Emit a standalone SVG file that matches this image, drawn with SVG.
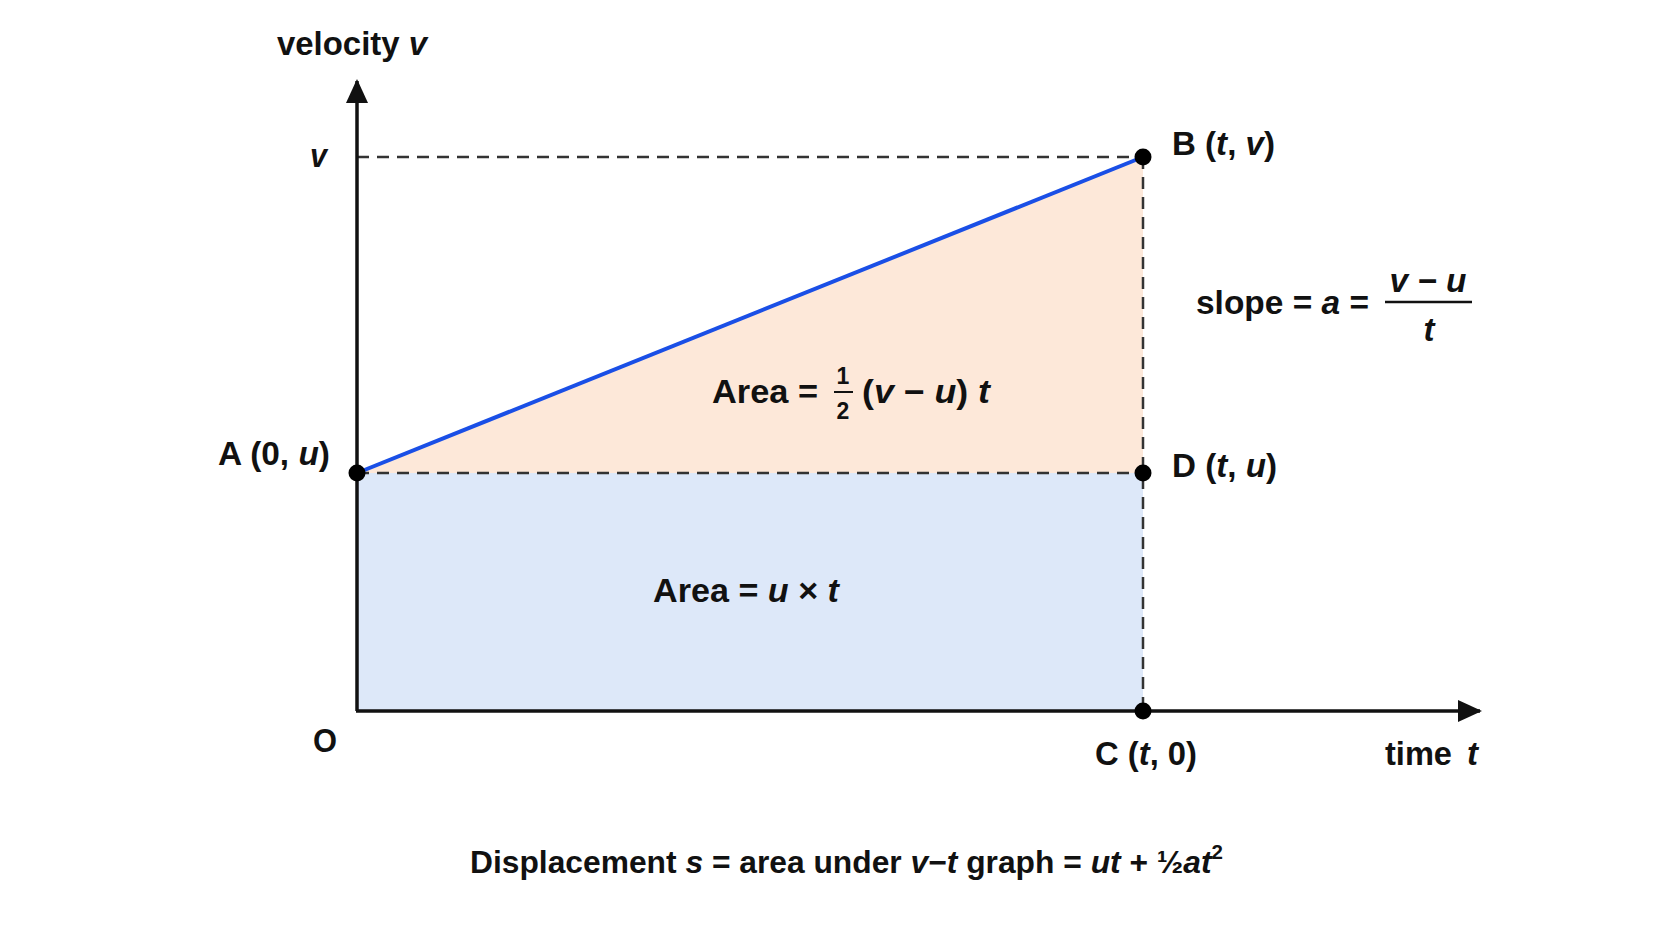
<svg xmlns="http://www.w3.org/2000/svg" width="1672" height="941" viewBox="0 0 1672 941">
<defs>
<style>
text{font-family:"Liberation Sans",Arial,sans-serif;font-weight:bold;fill:#111;font-size:33px}
.i{font-style:italic}
.dash{stroke:#333;stroke-width:2.5;stroke-dasharray:12 8;fill:none}
.axis{stroke:#111;stroke-width:3.5;fill:none}
.dot{fill:#000}
</style>
<marker id="ah" viewBox="0 0 24 22" refX="22" refY="11" markerWidth="24" markerHeight="22" markerUnits="userSpaceOnUse" orient="auto">
<path d="M0,0 L24,11 L0,22 Z" fill="#111"/>
</marker>
</defs>
<rect width="1672" height="941" fill="#ffffff"/>
<g id="regions">
<rect x="357" y="473" width="786" height="238" fill="#dde8f9"/>
<polygon points="357,473 1143,157 1143,473" fill="#fde8d9"/>
</g>
<g id="connectors">
<line class="dash" x1="357" y1="157" x2="1143" y2="157"/>
<line class="dash" x1="357" y1="473" x2="1143" y2="473"/>
<line class="dash" x1="1143" y1="157" x2="1143" y2="711"/>
<line x1="357" y1="473" x2="1143" y2="157" stroke="#1a4fe6" stroke-width="4"/>
<line class="axis" x1="357" y1="711" x2="357" y2="81" marker-end="url(#ah)"/>
<line class="axis" x1="356" y1="711" x2="1480" y2="711" marker-end="url(#ah)"/>
</g>
<g id="axis-labels">
<text x="277" y="55" textLength="150" lengthAdjust="spacingAndGlyphs">velocity <tspan class="i">v</tspan></text>
<text x="310" y="167" class="i" textLength="17" lengthAdjust="spacingAndGlyphs">v</text>
<text x="313" y="752" textLength="24" lengthAdjust="spacingAndGlyphs">O</text>
<text x="1385" y="765" textLength="67" lengthAdjust="spacingAndGlyphs">time</text>
<text x="1467" y="765" class="i" textLength="11" lengthAdjust="spacingAndGlyphs">t</text>
</g>
<g id="node-A">
<circle class="dot" cx="357" cy="473" r="8.5"/>
<text x="218" y="465" textLength="112" lengthAdjust="spacingAndGlyphs">A (0, <tspan class="i">u</tspan>)</text>
</g>
<g id="node-B">
<circle class="dot" cx="1143" cy="157" r="8.5"/>
<text x="1172" y="155" textLength="103" lengthAdjust="spacingAndGlyphs">B (<tspan class="i">t</tspan>, <tspan class="i">v</tspan>)</text>
</g>
<g id="node-D">
<circle class="dot" cx="1143" cy="473" r="8.5"/>
<text x="1172" y="477" textLength="105" lengthAdjust="spacingAndGlyphs">D (<tspan class="i">t</tspan>, <tspan class="i">u</tspan>)</text>
</g>
<g id="node-C">
<circle class="dot" cx="1143" cy="711" r="8.5"/>
<text x="1095" y="765" textLength="102" lengthAdjust="spacingAndGlyphs">C (<tspan class="i">t</tspan>, 0)</text>
</g>
<g id="slope">
<text x="1196" y="314" textLength="173" lengthAdjust="spacingAndGlyphs">slope = <tspan class="i">a</tspan> =</text>
<text x="1428" y="292" text-anchor="middle" class="i" textLength="77" lengthAdjust="spacingAndGlyphs">v − u</text>
<line x1="1385" y1="302" x2="1472" y2="302" stroke="#111" stroke-width="2.5"/>
<text x="1429" y="341" text-anchor="middle" class="i">t</text>
</g>
<g id="area-triangle">
<text x="712" y="403" textLength="106" lengthAdjust="spacingAndGlyphs">Area =</text>
<text x="843" y="384" text-anchor="middle" style="font-size:23px">1</text>
<line x1="834" y1="392" x2="853" y2="392" stroke="#111" stroke-width="2"/>
<text x="843" y="419" text-anchor="middle" style="font-size:23px">2</text>
<text x="862" y="403" textLength="128" lengthAdjust="spacingAndGlyphs">(<tspan class="i">v</tspan> − <tspan class="i">u</tspan>) <tspan class="i">t</tspan></text>
</g>
<g id="area-rect">
<text x="653" y="602" textLength="186" lengthAdjust="spacingAndGlyphs">Area = <tspan class="i">u</tspan> × <tspan class="i">t</tspan></text>
</g>
<g id="caption">
<text x="470" y="873" style="font-size:31px" textLength="753" lengthAdjust="spacingAndGlyphs">Displacement <tspan class="i">s</tspan> = area under <tspan class="i">v</tspan>−<tspan class="i">t</tspan> graph = <tspan class="i">ut</tspan> + ½<tspan class="i">at</tspan><tspan dy="-14" style="font-size:20px">2</tspan></text>
</g>
</svg>
